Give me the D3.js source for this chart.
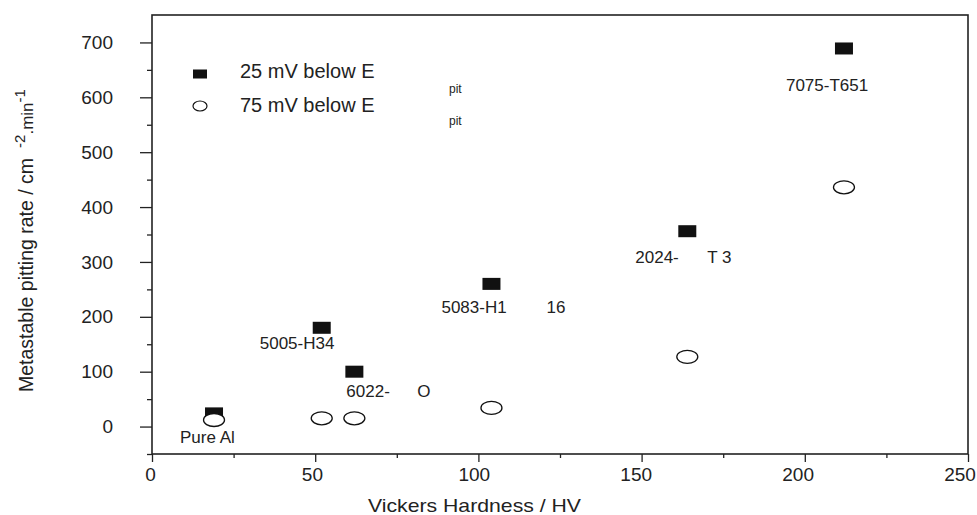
<!DOCTYPE html>
<html>
<head>
<meta charset="utf-8">
<script src="https://cdn.jsdelivr.net/npm/d3@7"></script>
<style>
  body { margin: 0; background: #fff; }
  text { font-family: "Liberation Sans", Arial, sans-serif; fill: #222; }
</style>
</head>
<body>
<div class="chart"></div>
<script>
// values
const alloys = ["Pure Al", "5005-H34", "6022-O", "5083-H116", "2024-T3", "7075-T651"]
const hardness = [19, 52, 62, 104, 164, 212]
const rate25 = [24, 180, 100, 260, 356, 689]
const rate75 = [12, 15, 15, 34, 127, 436]
const xTicks = [0, 50, 100, 150, 200, 250]
const yTicks = [0, 100, 200, 300, 400, 500, 600, 700]
const seriesNames = ["25 mV below E", "75 mV below E"]

// label pieces as printed (the figure splits some labels with a gap)
const labelParts = [["Pure Al"], ["5005-H34"], ["6022-", "O"], ["5083-H1", "16"], ["2024-", "T 3"], ["7075-T651"]]
// offsets of each label from its square marker: [dx, dy, gap before second piece]
const labelLayout = [[-34, 30, 0], [-62, 21, 0], [-8, 25, 71], [-50, 29, 105], [-52, 32, 72], [-58, 43, 0]]

function drawChart() {
    const dimensions = { width: 977, height: 515, left: 152, right: 968, top: 15, bottom: 454 }

    const svg = d3.select(".chart")
        .append("svg")
        .attr("width", dimensions.width)
        .attr("height", dimensions.height)

    const x = d3.scaleLinear().domain([0, 250]).range([dimensions.left, dimensions.right])
    const y = d3.scaleLinear().domain([-50, 750]).range([dimensions.bottom, dimensions.top])

    // axes (domain lines hidden, the frame draws them)
    const yMajor = svg.append("g")
        .attr("transform", `translate(${dimensions.left},0)`)
        .call(d3.axisLeft(y).tickValues(yTicks).tickSize(12).tickPadding(27))
    const yMinor = svg.append("g")
        .attr("transform", `translate(${dimensions.left},0)`)
        .call(d3.axisLeft(y).tickValues(d3.range(-50, 700, 100)).tickSize(5).tickFormat(""))
    const xMajor = svg.append("g")
        .attr("transform", `translate(0,${dimensions.bottom})`)
        .call(d3.axisBottom(x).tickValues(xTicks).tickSize(8).tickPadding(6))
    const xMinor = svg.append("g")
        .attr("transform", `translate(0,${dimensions.bottom})`)
        .call(d3.axisBottom(x).tickValues(d3.range(25, 250, 50)).tickSize(4).tickFormat(""))

    ;[yMajor, yMinor, xMajor, xMinor].forEach(g => {
        g.select(".domain").remove()
        g.selectAll("line").attr("stroke", "#222").attr("stroke-width", 1.3)
        g.selectAll("text").attr("font-size", 19).attr("fill", "#222")
            .attr("font-family", '"Liberation Sans", Arial, sans-serif')
    })
    // x labels in the figure sit a little left of their ticks, more so to the right
    xMajor.selectAll("text").attr("dx", d => -2 - 0.026 * d)

    // frame
    svg.append("rect")
        .attr("x", dimensions.left)
        .attr("y", dimensions.top)
        .attr("width", dimensions.right - dimensions.left)
        .attr("height", dimensions.bottom - dimensions.top)
        .attr("fill", "none")
        .attr("stroke", "#222")
        .attr("stroke-width", 1.6)

    // axis titles
    svg.append("text")
        .attr("x", 368)
        .attr("y", 512)
        .attr("font-size", 19)
        .attr("textLength", 213)
        .attr("lengthAdjust", "spacingAndGlyphs")
        .text("Vickers Hardness / HV")

    const yTitle = svg.append("text")
        .attr("transform", "translate(33,392) rotate(-90)")
        .attr("font-size", 19.5)
    yTitle.append("tspan").text("Metastable pitting rate / cm")
    yTitle.append("tspan").attr("dx", 10).attr("dy", -8).attr("font-size", 15).text("-2")
    yTitle.append("tspan").attr("dy", 8).attr("font-size", 17).text(".min")
    yTitle.append("tspan").attr("dy", -8).attr("font-size", 15).text("-1")

    const points = alloys.map((a, i) => ({ alloy: a, hv: hardness[i], r25: rate25[i], r75: rate75[i], i }))

    // 25 mV series: filled squares
    svg.append("g").selectAll("rect")
        .data(points)
        .join("rect")
        .attr("x", d => x(d.hv) - 9)
        .attr("y", d => y(d.r25) - 6)
        .attr("width", 18)
        .attr("height", 12)
        .attr("fill", "#111")

    // 75 mV series: open ellipses
    svg.append("g").selectAll("ellipse")
        .data(points)
        .join("ellipse")
        .attr("cx", d => x(d.hv))
        .attr("cy", d => y(d.r75))
        .attr("rx", 10.5)
        .attr("ry", 6.5)
        .attr("fill", "#fff")
        .attr("stroke", "#111")
        .attr("stroke-width", 1.3)

    // alloy labels
    svg.append("g").selectAll("text")
        .data(points)
        .join("text")
        .attr("x", d => x(d.hv) + labelLayout[d.i][0])
        .attr("y", d => y(d.r25) + labelLayout[d.i][1])
        .attr("font-size", 17)
        .each(function (d) {
            const t = d3.select(this)
            const parts = labelParts[d.i]
            t.append("tspan").text(parts[0])
            if (parts[1]) {
                t.append("tspan")
                    .attr("x", x(d.hv) + labelLayout[d.i][0] + labelLayout[d.i][2])
                    .text(parts[1])
            }
        })

    // legend
    const legend = svg.append("g")
    legend.append("rect").attr("x", 193).attr("y", 69.5).attr("width", 14).attr("height", 9).attr("fill", "#111")
    legend.append("ellipse").attr("cx", 200).attr("cy", 106).attr("rx", 7).attr("ry", 5)
        .attr("fill", "#fff").attr("stroke", "#111").attr("stroke-width", 1.2)
    legend.selectAll("text.name")
        .data(seriesNames)
        .join("text")
        .attr("class", "name")
        .attr("x", 240)
        .attr("y", (d, i) => 78 + i * 34)
        .attr("font-size", 20)
        .text(d => d)
    legend.selectAll("text.sub")
        .data(seriesNames)
        .join("text")
        .attr("class", "sub")
        .attr("x", 449)
        .attr("y", (d, i) => 93 + i * 32)
        .attr("font-size", 12)
        .text("pit")
}

drawChart()
</script>
</body>
</html>
